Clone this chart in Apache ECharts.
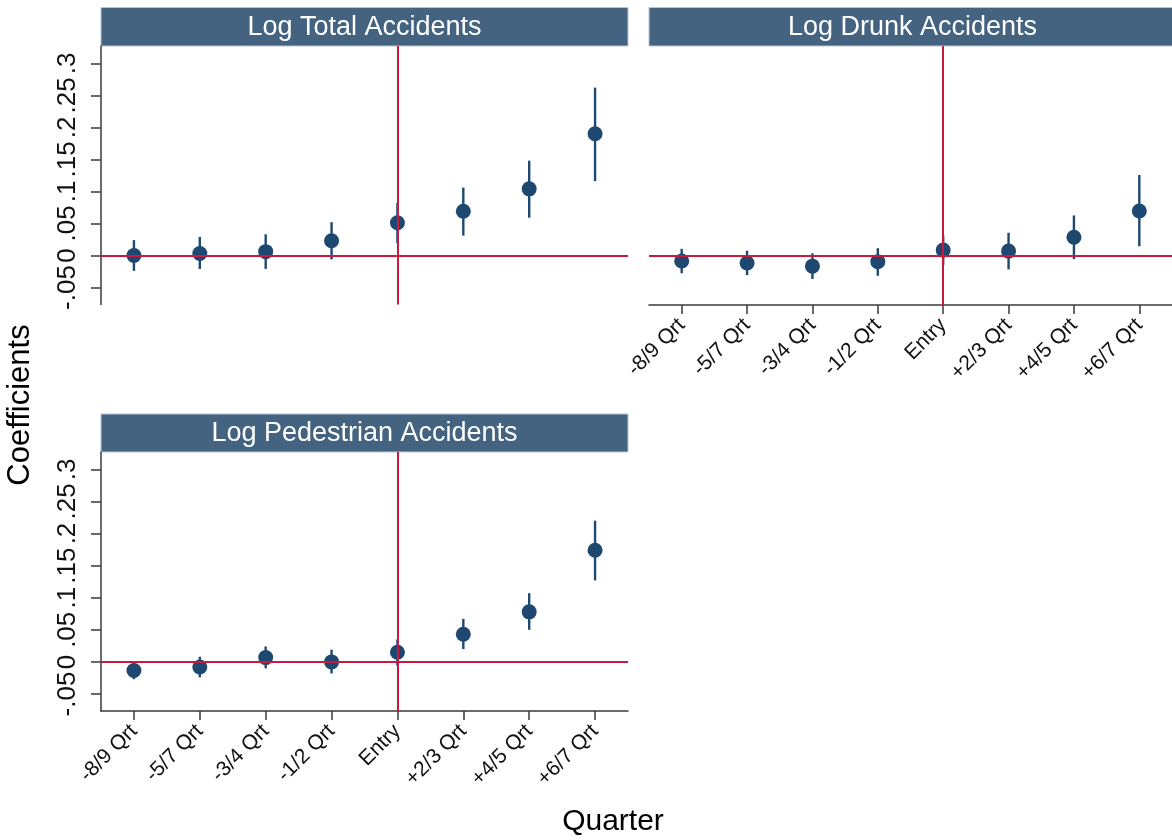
<!DOCTYPE html>
<html>
<head>
<meta charset="utf-8">
<title>Event-study coefficients by quarter</title>
<script src="https://cdn.jsdelivr.net/npm/echarts@6/dist/echarts.min.js"></script>
<style>
  html, body { margin: 0; padding: 0; background: #ffffff; }
  #chart { width: 1172px; height: 840px; }
</style>
</head>
<body>
<div id="chart"></div>
<script>
// Quarters relative to entry
const categories = ['-8/9 Qrt', '-5/7 Qrt', '-3/4 Qrt', '-1/2 Qrt', 'Entry', '+2/3 Qrt', '+4/5 Qrt', '+6/7 Qrt'];
const yTicks = [-0.05, 0, 0.05, 0.1, 0.15, 0.2, 0.25, 0.3];

// Log Total Accidents: point estimate and confidence bounds
const totalCoef = [0.000, 0.003, 0.006, 0.023, 0.051, 0.069, 0.104, 0.190];
const totalLo   = [-0.024, -0.021, -0.021, -0.006, 0.019, 0.031, 0.059, 0.116];
const totalHi   = [0.024, 0.029, 0.033, 0.052, 0.082, 0.106, 0.148, 0.262];

// Log Drunk Accidents
const drunkCoef = [-0.008, -0.011, -0.016, -0.009, 0.009, 0.0075, 0.029, 0.070];
const drunkLo   = [-0.027, -0.030, -0.036, -0.031, -0.014, -0.021, -0.005, 0.015];
const drunkHi   = [0.011, 0.008, 0.004, 0.012, 0.032, 0.036, 0.063, 0.126];

// Log Pedestrian Accidents
const pedCoef = [-0.0135, -0.008, 0.0067, 0.000, 0.015, 0.043, 0.078, 0.174];
const pedLo   = [-0.027, -0.024, -0.010, -0.018, -0.006, 0.020, 0.050, 0.127];
const pedHi   = [0.0005, 0.008, 0.024, 0.019, 0.035, 0.067, 0.107, 0.220];

const panelTitles = ['Log Total Accidents', 'Log Drunk Accidents', 'Log Pedestrian Accidents'];

const NAVY = '#1f4870';
const RED = '#c8193f';
const STRIP = '#436381';
const AXIS = '#3a3a3a';
const FONT = '"Liberation Sans", Arial, Helvetica, sans-serif';

const Y_MIN = -0.0765, Y_MAX = 0.327;

const grids = [
  { left: 101, top: 46, width: 527, height: 258.5 },
  { left: 649, top: 46, width: 527, height: 259 },
  { left: 101, top: 452, width: 527, height: 259 }
];

function fmtTick(v) {
  if (Math.abs(v) < 1e-9) return '0';
  let s = String(+v.toFixed(2));
  return s.replace('0.', '.');
}

function xAxisFor(i, showAxis) {
  return {
    type: 'category', gridIndex: i, data: categories, boundaryGap: true,
    axisLine: { show: showAxis, onZero: false, lineStyle: { color: AXIS, width: 1.5 } },
    axisTick: { show: showAxis, alignWithLabel: true, length: 9, lineStyle: { color: AXIS, width: 1.5 } },
    axisLabel: { show: showAxis, rotate: 45, margin: 17, fontSize: 21, color: '#111', fontFamily: FONT, interval: 0 },
    splitLine: { show: false }
  };
}

function yAxisFor(i, showAxis) {
  return {
    type: 'value', gridIndex: i, min: Y_MIN, max: Y_MAX,
    axisLine: { show: showAxis, onZero: false, lineStyle: { color: AXIS, width: 1.5 } },
    axisTick: { show: showAxis, length: 10, customValues: yTicks, lineStyle: { color: AXIS, width: 1.5 } },
    axisLabel: { show: showAxis, rotate: 90, margin: 20, fontSize: 26, color: '#111', fontFamily: FONT,
                 customValues: yTicks, formatter: fmtTick },
    splitLine: { show: false }
  };
}

function panelSeries(i, coef, lo, hi) {
  return [
    {
      // reference lines at zero and at entry
      type: 'line', xAxisIndex: i, yAxisIndex: i, data: coef, silent: true,
      showSymbol: false, lineStyle: { width: 0, opacity: 0 }, z: 1,
      markLine: {
        silent: true, symbol: 'none', label: { show: false },
        lineStyle: { color: RED, width: 2, type: 'solid' },
        data: [{ yAxis: 0 }, { xAxis: 'Entry' }]
      }
    },
    {
      // confidence intervals
      type: 'custom', xAxisIndex: i, yAxisIndex: i, z: 2,
      data: categories.map((c, k) => [k, lo[k], hi[k]]),
      encode: { x: 0, y: [1, 2] },
      renderItem: function (params, api) {
        const a = api.coord([api.value(0), api.value(1)]);
        const b = api.coord([api.value(0), api.value(2)]);
        return {
          type: 'line',
          shape: { x1: a[0], y1: a[1], x2: b[0], y2: b[1] },
          style: { stroke: NAVY, lineWidth: 2.4 }
        };
      }
    },
    {
      // point estimates
      type: 'scatter', xAxisIndex: i, yAxisIndex: i, z: 3,
      data: coef, symbol: 'circle', symbolSize: 15,
      itemStyle: { color: NAVY, opacity: 1 }
    }
  ];
}

function strip(g, title, top) {
  const right = g.left + g.width;
  return [
    {
      type: 'rect', silent: true,
      shape: { x: g.left, y: top, width: g.width, height: g.top - top },
      style: { fill: STRIP, stroke: '#b9c6d2', lineWidth: 1 }
    },
    {
      type: 'text', silent: true,
      x: (g.left + Math.min(right, 1176)) / 2, y: (top + g.top) / 2 + 1,
      style: { text: title, fill: '#ffffff', fontSize: 27, fontFamily: FONT,
               align: 'center', verticalAlign: 'middle' }
    }
  ];
}

const chart = echarts.init(document.getElementById('chart'), null, { renderer: 'canvas' });

const option = {
  backgroundColor: '#ffffff',
  animation: false,
  grid: grids,
  xAxis: [xAxisFor(0, false), xAxisFor(1, true), xAxisFor(2, true)],
  yAxis: [yAxisFor(0, true), yAxisFor(1, false), yAxisFor(2, true)],
  series: [].concat(
    panelSeries(0, totalCoef, totalLo, totalHi),
    panelSeries(1, drunkCoef, drunkLo, drunkHi),
    panelSeries(2, pedCoef, pedLo, pedHi)
  ),
  graphic: [].concat(
    strip(grids[0], panelTitles[0], 7.5),
    strip(grids[1], panelTitles[1], 7.5),
    strip(grids[2], panelTitles[2], 414),
    [
      {
        type: 'text', silent: true, x: 20, y: 405, rotation: Math.PI / 2,
        style: { text: 'Coefficients', fill: '#000', fontSize: 31, fontFamily: FONT,
                 align: 'center', verticalAlign: 'middle' }
      },
      {
        type: 'text', silent: true, x: 613, y: 822,
        style: { text: 'Quarter', fill: '#000', fontSize: 30, fontFamily: FONT,
                 align: 'center', verticalAlign: 'middle' }
      }
    ]
  )
};

chart.setOption(option);
</script>
</body>
</html>
